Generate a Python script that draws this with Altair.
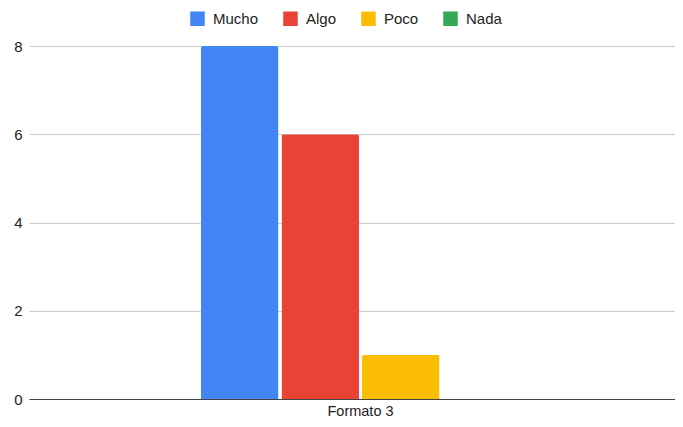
import altair as alt
import pandas as pd

categories = ["Formato 3"]
series = ["Mucho", "Algo", "Poco", "Nada"]
values = [8, 6, 1, 0]
colors = ["#4285F4", "#EA4335", "#FBBC04", "#34A853"]

df = pd.DataFrame({
    "formato": [categories[0]] * len(series),
    "serie": series,
    "valor": values,
})

FONT = "Liberation Sans"

chart = alt.Chart(df).mark_bar(
    cornerRadiusTopLeft=2, cornerRadiusTopRight=2
).encode(
    x=alt.X("formato:N", title=None,
            scale=alt.Scale(paddingInner=0, paddingOuter=0.5125, align=0.526),
            axis=alt.Axis(labelAngle=0, ticks=False, domain=True, domainColor="#444",
                          domainWidth=1, labelFontSize=14.5, labelColor="#222",
                          labelFont=FONT, labelPadding=5, grid=False)),
    xOffset=alt.XOffset("serie:N", sort=series,
                        scale=alt.Scale(paddingInner=0.0375, paddingOuter=0)),
    y=alt.Y("valor:Q", title=None,
            scale=alt.Scale(domain=[0, 8], nice=False),
            axis=alt.Axis(values=[0, 2, 4, 6, 8], ticks=False, domain=False,
                          gridColor="#cccccc", labelFontSize=15, labelColor="#222",
                          labelFont=FONT, labelPadding=7, format="d")),
    color=alt.Color("serie:N", sort=series,
                    scale=alt.Scale(domain=series, range=colors),
                    legend=alt.Legend(title=None, orient="none", direction="horizontal",
                                      legendX=161, legendY=-35, padding=0,
                                      symbolType="square", symbolSize=210,
                                      symbolStrokeWidth=0, labelFontSize=15,
                                      labelFont=FONT, labelColor="#222",
                                      labelOffset=8, columnPadding=24)),
).properties(
    width=646,
    height=353,
    autosize=alt.AutoSizeParams(type="none"),
    padding={"left": 21, "top": 38, "right": 0, "bottom": 20},
).configure_view(stroke=None)

chart.save("out.html", embed_options={"renderer": "svg", "actions": False})
